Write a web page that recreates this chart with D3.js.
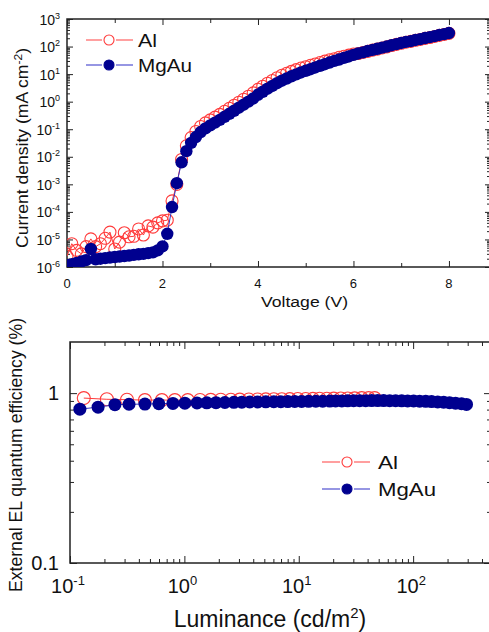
<!DOCTYPE html>
<html>
<head>
<meta charset="utf-8">
<script src="https://cdn.jsdelivr.net/npm/d3@7"></script>
<style>
  body { margin: 0; background: #fff; }
  svg { display: block; }
  text { font-family: Arial, "Liberation Sans", sans-serif; fill: #111; }
</style>
</head>
<body>
<div id="chart"></div>
<script>
// ---- J-V data (top panel) ----
const voltage = [0.0, 0.1, 0.2, 0.3, 0.4, 0.5, 0.6, 0.7, 0.8, 0.9,
  1.0, 1.1, 1.2, 1.3, 1.4, 1.5, 1.6, 1.7, 1.8, 1.9,
  2.0, 2.1, 2.2, 2.3, 2.4, 2.5, 2.6, 2.7, 2.8, 2.9,
  3.0, 3.1, 3.2, 3.3, 3.4, 3.5, 3.6, 3.7, 3.8, 3.9,
  4.0, 4.1, 4.2, 4.3, 4.4, 4.5, 4.6, 4.7, 4.8, 4.9,
  5.0, 5.1, 5.2, 5.3, 5.4, 5.5, 5.6, 5.7, 5.8, 5.9,
  6.0, 6.1, 6.2, 6.3, 6.4, 6.5, 6.6, 6.7, 6.8, 6.9,
  7.0, 7.1, 7.2, 7.3, 7.4, 7.5, 7.6, 7.7, 7.8, 7.9, 8.0];

// current density, mA cm^-2
const jAl = [2.5e-6, 7.0e-6, 4.0e-6, 3.0e-6, 5.5e-6, 1.05e-5, 5.5e-6, 7.0e-6, 1.1e-5, 1.85e-5,
  4.5e-6, 8.0e-6, 1.75e-5, 1.25e-5, 1.3e-5, 2.4e-5, 1.45e-5, 3.1e-5, 2.8e-5, 4.0e-5,
  4.7e-5, 5.0e-5, 2.5e-4, 1.0e-3, 8.0e-3, 0.025, 0.050, 0.083, 0.126, 0.170,
  0.219, 0.275, 0.347, 0.447, 0.575, 0.741, 0.955, 1.23, 1.58, 2.09,
  2.82, 3.63, 4.68, 5.89, 7.41, 9.12, 10.7, 12.6, 14.5, 16.6,
  18.6, 20.9, 23.4, 26.3, 29.5, 33.1, 36.3, 40.7, 44.7, 49.0,
  53.7, 56, 61, 67, 74, 81, 89, 97, 109, 120,
  131, 144, 154, 169, 181, 198, 213, 233, 255, 274, 300];

const jMgAu = [1.17e-6, 1.26e-6, 1.41e-6, 1.58e-6, 1.78e-6, 4.5e-6, 1.9e-6, 2.0e-6, 2.1e-6, 2.2e-6,
  2.3e-6, 2.4e-6, 2.5e-6, 2.6e-6, 2.75e-6, 2.9e-6, 3.0e-6, 3.2e-6, 3.4e-6, 4.0e-6,
  5.6e-6, 1.6e-5, 1.5e-4, 1.1e-3, 6.3e-3, 0.016, 0.032, 0.052, 0.079, 0.107,
  0.138, 0.174, 0.219, 0.282, 0.363, 0.468, 0.603, 0.776, 1.0, 1.32,
  1.78, 2.29, 2.95, 3.72, 4.68, 5.75, 6.92, 8.32, 9.77, 11.5,
  13.2, 15.1, 17.4, 20.0, 22.9, 26.3, 30.2, 33.9, 38.9, 43.7,
  50.1, 56.2, 61.7, 69.2, 75.9, 83.2, 91.2, 100, 112, 123,
  135, 148, 158, 174, 186, 204, 219, 240, 263, 282, 309];

// ---- EQE vs luminance (bottom panel) ----
const lumAl = [0.132, 0.210, 0.315, 0.452, 0.636, 0.826, 1.07, 1.37, 1.70, 2.08,
  2.55, 3.05, 3.66, 4.38, 5.15, 6.05, 7.11, 8.35, 9.80, 11.5,
  13.3, 15.2, 17.6, 20.2, 23.3, 26.8, 30.8, 35.5, 40.8, 46.1];
const eqeAl = [0.935, 0.92, 0.915, 0.91, 0.91, 0.91, 0.91, 0.912, 0.913, 0.914,
  0.915, 0.916, 0.917, 0.918, 0.919, 0.92, 0.921, 0.922, 0.923, 0.924,
  0.925, 0.926, 0.927, 0.928, 0.929, 0.93, 0.932, 0.934, 0.935, 0.935];

const lumMgAu = [0.122, 0.176, 0.247, 0.328, 0.452, 0.598, 0.794, 1.01, 1.29, 1.57,
  1.89, 2.26, 2.71, 3.18, 3.73, 4.38, 5.15, 6.05, 6.97, 8.02,
  9.23, 10.6, 12.2, 14.1, 16.2, 18.7, 21.0, 23.8, 26.8, 30.2,
  34.1, 38.5, 43.4, 49.0, 55.2, 62.4, 70.3, 79.4, 89.5, 101,
  114, 129, 145, 164, 185, 208, 235, 265, 293];
const eqeMgAu = [0.805, 0.827, 0.855, 0.86, 0.862, 0.866, 0.87, 0.873, 0.875, 0.877,
  0.879, 0.881, 0.883, 0.885, 0.887, 0.888, 0.889, 0.89, 0.891, 0.892,
  0.893, 0.894, 0.895, 0.896, 0.897, 0.898, 0.899, 0.9, 0.901, 0.902,
  0.903, 0.903, 0.904, 0.904, 0.904, 0.903, 0.902, 0.901, 0.9, 0.899,
  0.897, 0.895, 0.892, 0.888, 0.884, 0.879, 0.873, 0.866, 0.858];

// axis ticks
const vMajor = [0, 2, 4, 6, 8];
const vMinor = [1, 3, 5, 7];
const jExp = [-6, -5, -4, -3, -2, -1, 0, 1, 2, 3];
const lumExp = [-1, 0, 1, 2];
const eqeMajor = [0.1, 1];
const eqeMinor = [0.2, 0.3, 0.4, 0.5, 0.6, 0.7, 0.8, 0.9];

const RED = "#ff3a3a", NAVY = "#00008f", BLUE_LINE = "#3535c0";

const svg = d3.select("#chart").append("svg")
  .attr("width", 489)
  .attr("height", 632);

// draws tick marks (no labels) pointing into the plot
function ticks(g, axisFn, scale, values, size, tx, ty) {
  g.append("g")
    .attr("transform", `translate(${tx},${ty})`)
    .call(axisFn(scale).tickValues(values).tickSize(-size).tickSizeOuter(0).tickFormat(""))
    .call(s => s.select(".domain").remove())
    .selectAll("line").attr("stroke", "#222").attr("stroke-width", 1);
}

// "10" with a superscript exponent
function powLabel(g, x, y, exp, size, supSize, supDy, anchor) {
  const t = g.append("text").attr("x", x).attr("y", y)
    .attr("text-anchor", anchor).attr("font-size", size);
  t.append("tspan").text("10");
  t.append("tspan").attr("dy", supDy).attr("font-size", supSize).text(exp < 0 ? "-" + (-exp) : exp);
  return t;
}

// ============ top panel: J-V ============
// right frame sits just past the page edge, like the cropped original
const x1 = d3.scaleLinear().domain([0, 8.86]).range([67, 490]);
const y1 = d3.scaleLog().domain([1e-6, 1e3]).range([267, 19]);
const upper = svg.append("g");

upper.append("clipPath").attr("id", "clipTop")
  .append("rect").attr("x", 67).attr("y", 19).attr("width", 423).attr("height", 248);

const jMinor = [];
jExp.slice(0, -1).forEach(e => { for (let k = 2; k <= 9; k++) jMinor.push(k * Math.pow(10, e)); });
const jMajor = jExp.map(e => Math.pow(10, e));

ticks(upper, d3.axisBottom, x1, vMajor, 6, 0, 267);
ticks(upper, d3.axisBottom, x1, vMinor, 4, 0, 267);
ticks(upper, d3.axisTop, x1, vMajor, 6, 0, 19);
ticks(upper, d3.axisTop, x1, vMinor, 4, 0, 19);
ticks(upper, d3.axisLeft, y1, jMajor, 6, 67, 0);
ticks(upper, d3.axisLeft, y1, jMinor, 3, 67, 0);
ticks(upper, d3.axisRight, y1, jMajor, 5, 490, 0);
ticks(upper, d3.axisRight, y1, jMinor, 3, 490, 0);

upper.append("rect").attr("x", 67).attr("y", 19).attr("width", 423).attr("height", 248)
  .attr("fill", "none").attr("stroke", "#222").attr("stroke-width", 1.5);

vMajor.forEach(v => {
  upper.append("text").attr("x", x1(v)).attr("y", 288).attr("text-anchor", "middle")
    .attr("font-size", 13).text(v);
});
jExp.forEach(e => powLabel(upper, 60, y1(Math.pow(10, e)) + 5.5, e, 14, 9, -6, "end"));

upper.append("text").attr("x", 261).attr("y", 307).attr("font-size", 15.5)
  .attr("textLength", 87).attr("lengthAdjust", "spacingAndGlyphs").text("Voltage (V)");

const ytTop = upper.append("text").attr("transform", "translate(28,148) rotate(-90)")
  .attr("text-anchor", "middle").attr("font-size", 16)
  .attr("textLength", 200).attr("lengthAdjust", "spacingAndGlyphs");
ytTop.append("tspan").text("Current density (mA cm");
ytTop.append("tspan").attr("dy", -6).attr("font-size", 11).text("-2");
ytTop.append("tspan").attr("dy", 6).text(")");

const jv1 = voltage.map((v, i) => ({ x: v, y: jAl[i] }));
const jv2 = voltage.map((v, i) => ({ x: v, y: jMgAu[i] }));
const lineTop = d3.line().x(d => x1(d.x)).y(d => y1(d.y));
const plotTop = upper.append("g").attr("clip-path", "url(#clipTop)");

plotTop.append("path").datum(jv1).attr("d", lineTop)
  .attr("fill", "none").attr("stroke", RED).attr("stroke-width", 1);
plotTop.selectAll(".al").data(jv1).enter().append("circle")
  .attr("cx", d => x1(d.x)).attr("cy", d => y1(d.y)).attr("r", 6)
  .attr("fill", "none").attr("stroke", RED).attr("stroke-width", 1.1);
plotTop.append("path").datum(jv2).attr("d", lineTop)
  .attr("fill", "none").attr("stroke", BLUE_LINE).attr("stroke-width", 1);
plotTop.selectAll(".mg").data(jv2).enter().append("circle")
  .attr("cx", d => x1(d.x)).attr("cy", d => y1(d.y)).attr("r", 6.2)
  .attr("fill", NAVY);

// legend row: line broken around the marker, then the label
function legendRow(g, y, color, lineColor, filled, label, lx0, lx1, cx, r, tx, size, tl, dyText) {
  g.append("line").attr("x1", lx0).attr("x2", cx - r - 2).attr("y1", y).attr("y2", y)
    .attr("stroke", lineColor).attr("stroke-width", 1.2);
  g.append("line").attr("x1", cx + r + 2).attr("x2", lx1).attr("y1", y).attr("y2", y)
    .attr("stroke", lineColor).attr("stroke-width", 1.2);
  g.append("circle").attr("cx", cx).attr("cy", y).attr("r", r)
    .attr("fill", filled ? color : "#fff").attr("stroke", color).attr("stroke-width", 1.1);
  g.append("text").attr("x", tx).attr("y", y + dyText).attr("font-size", size)
    .attr("textLength", tl).attr("lengthAdjust", "spacingAndGlyphs").text(label);
}
legendRow(upper, 40, RED, "#ff6060", false, "Al", 86, 133, 109, 5, 138, 18, 19, 7);
legendRow(upper, 65, NAVY, "#5050d0", true, "MgAu", 86, 133, 109, 5, 138, 18, 54, 7);

// ============ bottom panel: EQE vs luminance ============
const x2 = d3.scaleLog().domain([0.1, 470]).range([70, 490]);
const y2 = d3.scaleLog().domain([0.1, 2]).range([563, 342]);
const lower = svg.append("g");

lower.append("clipPath").attr("id", "clipBot")
  .append("rect").attr("x", 70).attr("y", 342).attr("width", 420).attr("height", 221);

const lumMajor = lumExp.map(e => Math.pow(10, e));
const lumMinor = [];
lumExp.forEach(e => { for (let k = 2; k <= 9; k++) { const v = k * Math.pow(10, e); if (v < 470) lumMinor.push(v); } });

ticks(lower, d3.axisBottom, x2, lumMajor, 7, 0, 563);
ticks(lower, d3.axisBottom, x2, lumMinor, 4, 0, 563);
ticks(lower, d3.axisTop, x2, lumMajor, 7, 0, 342);
ticks(lower, d3.axisTop, x2, lumMinor, 4, 0, 342);
ticks(lower, d3.axisLeft, y2, eqeMajor, 7, 70, 0);
ticks(lower, d3.axisLeft, y2, eqeMinor, 4, 70, 0);
ticks(lower, d3.axisRight, y2, eqeMajor, 6, 490, 0);
ticks(lower, d3.axisRight, y2, eqeMinor, 3, 490, 0);

lower.append("rect").attr("x", 70).attr("y", 342).attr("width", 420).attr("height", 221)
  .attr("fill", "none").attr("stroke", "#222").attr("stroke-width", 1.5);

lumExp.forEach(e => powLabel(lower, x2(Math.pow(10, e)) - 2, 593, e, 20, 13, -8, "middle"));
eqeMajor.forEach(v => {
  lower.append("text").attr("x", 59).attr("y", y2(v) + 7).attr("text-anchor", "end")
    .attr("font-size", 20).text(v);
});

const xt = lower.append("text").attr("x", 270).attr("y", 627).attr("text-anchor", "middle")
  .attr("font-size", 23);
xt.append("tspan").text("Luminance (cd/m");
xt.append("tspan").attr("dy", -9).attr("font-size", 15).text("2");
xt.append("tspan").attr("dy", 9).text(")");

lower.append("text").attr("transform", "translate(22,455) rotate(-90)")
  .attr("text-anchor", "middle").attr("font-size", 18)
  .attr("textLength", 274).attr("lengthAdjust", "spacingAndGlyphs")
  .text("External EL quantum efficiency (%)");

const el1 = lumAl.map((l, i) => ({ x: l, y: eqeAl[i] }));
const el2 = lumMgAu.map((l, i) => ({ x: l, y: eqeMgAu[i] }));
const lineBot = d3.line().x(d => x2(d.x)).y(d => y2(d.y));
const plotBot = lower.append("g").attr("clip-path", "url(#clipBot)");

plotBot.append("path").datum(el1).attr("d", lineBot)
  .attr("fill", "none").attr("stroke", RED).attr("stroke-width", 1);
plotBot.selectAll(".al").data(el1).enter().append("circle")
  .attr("cx", d => x2(d.x)).attr("cy", d => y2(d.y)).attr("r", 6.5)
  .attr("fill", "none").attr("stroke", RED).attr("stroke-width", 1.1);
plotBot.append("path").datum(el2).attr("d", lineBot)
  .attr("fill", "none").attr("stroke", BLUE_LINE).attr("stroke-width", 1);
plotBot.selectAll(".mg").data(el2).enter().append("circle")
  .attr("cx", d => x2(d.x)).attr("cy", d => y2(d.y)).attr("r", 6.5)
  .attr("fill", NAVY);

// legend (bottom)
legendRow(lower, 462, RED, "#ff6060", false, "Al", 322, 370, 347, 5, 378, 19, 20, 7);
legendRow(lower, 489, NAVY, "#5050d0", true, "MgAu", 322, 370, 347, 5, 378, 19, 58, 7);
</script>
</body>
</html>
